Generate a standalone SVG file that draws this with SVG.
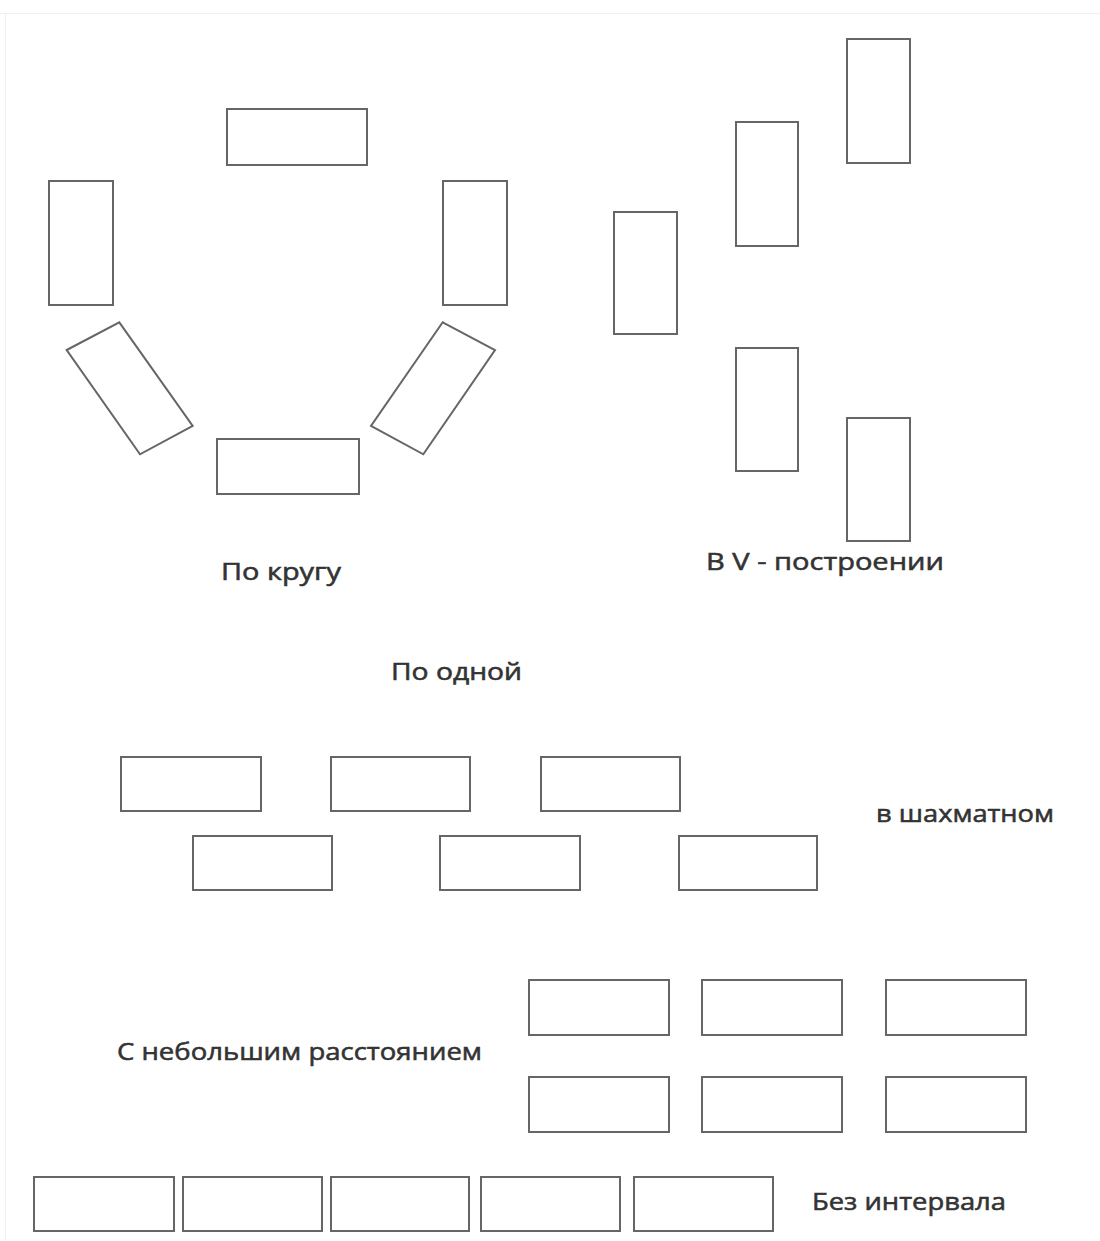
<svg xmlns="http://www.w3.org/2000/svg" width="1100" height="1241" viewBox="0 0 1100 1241">
<style>
.d{fill:#fff;stroke:#666;stroke-width:2}
.t{font-family:"Open Sans","DejaVu Sans",sans-serif;font-size:24px;fill:#333;stroke:#333;stroke-width:0.55}
.f{stroke:#f0f0f0;stroke-width:1;fill:none}
</style>
<rect width="1100" height="1241" fill="#fff"/>
<path class="f" d="M0 13.5H1100M5.5 13V1241"/>
<g id="circle">
<rect id="c1" class="d" x="227" y="109" width="140" height="56"/>
<rect id="c2" class="d" x="49" y="181" width="64" height="124"/>
<rect id="c3" class="d" x="443" y="181" width="64" height="124"/>
<polygon id="c4" class="d" points="66.7,350 119.3,322.3 192.7,426 140,454.3"/>
<polygon id="c5" class="d" points="442.7,322.3 495,350 423.3,454.3 371,426"/>
<rect id="c6" class="d" x="217" y="439" width="142" height="55"/>
</g>
<g id="vform">
<rect id="v1" class="d" x="847" y="39" width="63" height="124"/>
<rect id="v2" class="d" x="736" y="122" width="62" height="124"/>
<rect id="v3" class="d" x="614" y="212" width="63" height="122"/>
<rect id="v4" class="d" x="736" y="348" width="62" height="123"/>
<rect id="v5" class="d" x="847" y="418" width="63" height="123"/>
</g>
<g id="chess">
<rect id="s1" class="d" x="121" y="757" width="140" height="54"/>
<rect id="s2" class="d" x="331" y="757" width="139" height="54"/>
<rect id="s3" class="d" x="541" y="757" width="139" height="54"/>
<rect id="s4" class="d" x="193" y="836" width="139" height="54"/>
<rect id="s5" class="d" x="440" y="836" width="140" height="54"/>
<rect id="s6" class="d" x="679" y="836" width="138" height="54"/>
</g>
<g id="grid">
<rect id="g1" class="d" x="529" y="980" width="140" height="55"/>
<rect id="g2" class="d" x="702" y="980" width="140" height="55"/>
<rect id="g3" class="d" x="886" y="980" width="140" height="55"/>
<rect id="g4" class="d" x="529" y="1077" width="140" height="55"/>
<rect id="g5" class="d" x="702" y="1077" width="140" height="55"/>
<rect id="g6" class="d" x="886" y="1077" width="140" height="55"/>
</g>
<g id="nogap">
<rect id="n1" class="d" x="34" y="1177" width="140" height="54"/>
<rect id="n2" class="d" x="183" y="1177" width="139" height="54"/>
<rect id="n3" class="d" x="331" y="1177" width="138" height="54"/>
<rect id="n4" class="d" x="481" y="1177" width="139" height="54"/>
<rect id="n5" class="d" x="634" y="1177" width="139" height="54"/>
</g>
<g id="labels">
<text class="t" x="221" y="580" textLength="120" lengthAdjust="spacingAndGlyphs">По кругу</text>
<text class="t" x="706" y="570" textLength="238" lengthAdjust="spacingAndGlyphs">В V - построении</text>
<text class="t" x="391" y="680" textLength="131" lengthAdjust="spacingAndGlyphs">По одной</text>
<text class="t" x="876" y="822" textLength="178" lengthAdjust="spacingAndGlyphs">в шахматном</text>
<text class="t" x="117" y="1060" textLength="365" lengthAdjust="spacingAndGlyphs">С небольшим расстоянием</text>
<text class="t" x="812" y="1210" textLength="194" lengthAdjust="spacingAndGlyphs">Без интервала</text>
</g>
</svg>
